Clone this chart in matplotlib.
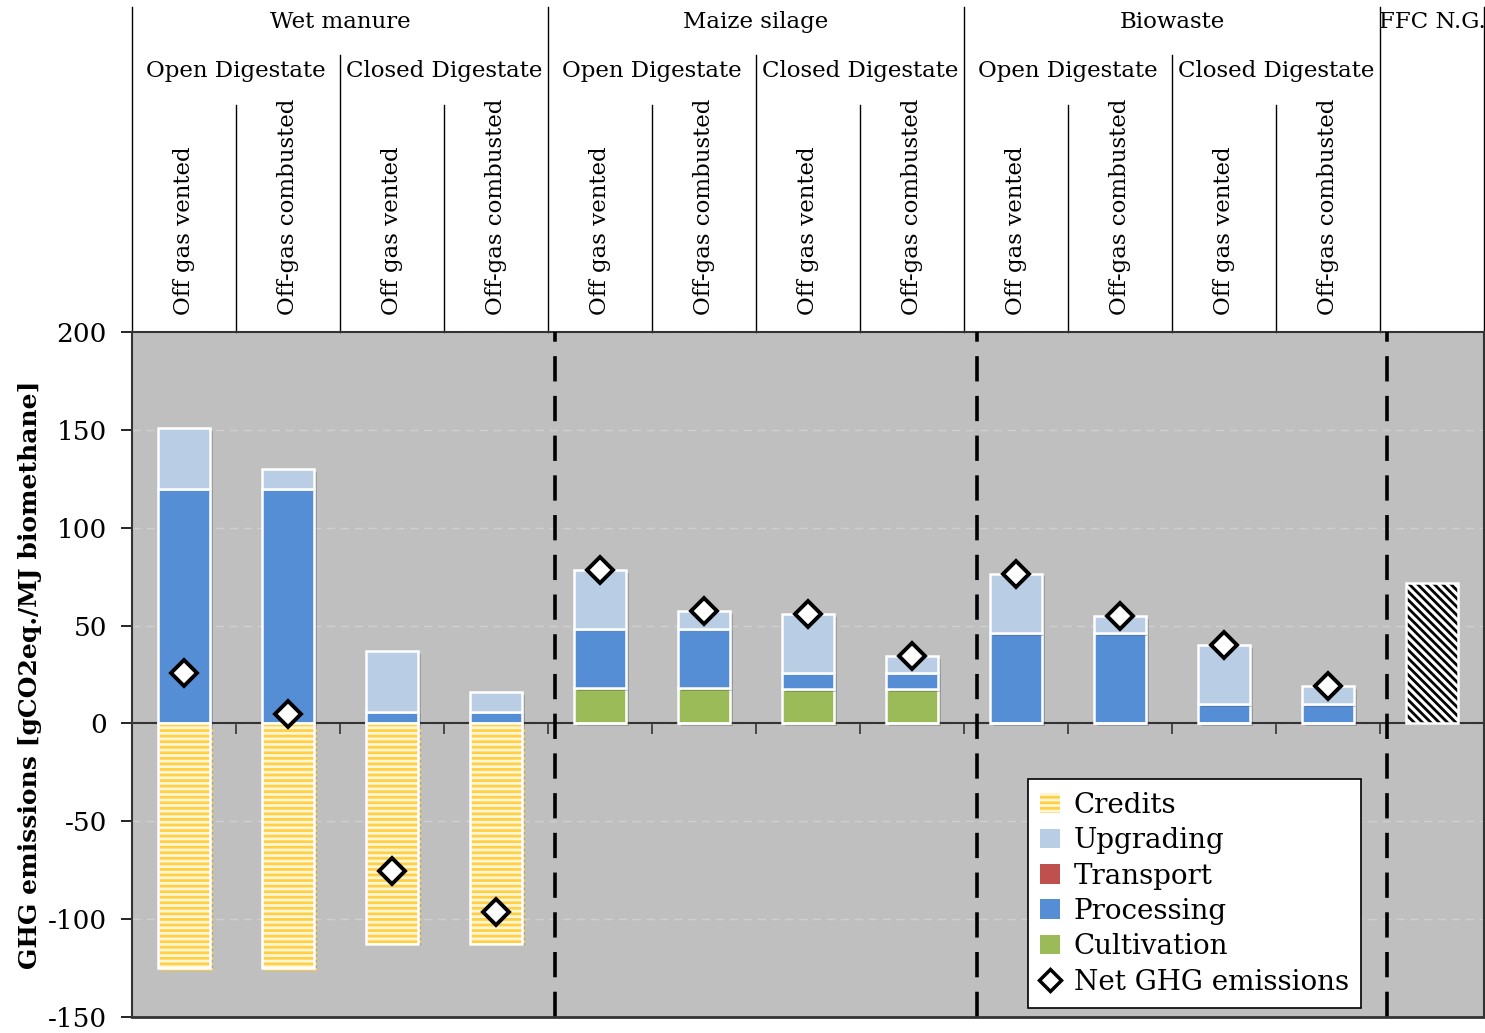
import matplotlib
matplotlib.use('Agg')
import matplotlib.pyplot as plt
import matplotlib.patheffects as pe
from matplotlib.lines import Line2D
from matplotlib.patches import Patch
import numpy as np

plt.rcParams['font.family'] = ['DejaVu Serif']
plt.rcParams['hatch.linewidth'] = 2.0
plt.rcParams['axes.unicode_minus'] = False

# Data (gCO2eq./MJ biomethane)
feedstocks = ['Wet manure', 'Maize silage', 'Biowaste']
digestate = ['Open Digestate', 'Closed Digestate']
offgas = ['Off gas vented', 'Off-gas combusted']

cultivation = [0, 0, 0, 0, 18, 18, 17.5, 17.5, 0, 0, 0, 0]
processing = [120, 120, 6, 6, 30.5, 30.5, 8.5, 8.5, 46, 46, 10, 10]
transport = [0, 0, 0, 0, 0, 0, 0, 0, 0, 0, 0, 0]
upgrading = [31, 10, 31, 10, 30, 9, 30, 8.5, 30.5, 9, 30, 9]
credits = [-125, -125, -112.5, -112.5, 0, 0, 0, 0, 0, 0, 0, 0]
net_ghg = [26, 5, -75.5, -96.5, 78.5, 57.5, 56, 34.5, 76.5, 55, 40, 19]
ffc_ng = 72

c_upg = '#B9CDE5'
c_tra = '#C0504D'
c_pro = '#558ED5'
c_cul = '#9BBB59'
c_cre = '#FFD044'

fig = plt.figure(figsize=(14.85, 10.33), dpi=100)
ax = fig.add_axes([0.0889, 0.0155, 0.9104, 0.6631])
ax.set_facecolor('#BFBFBF')

x = np.arange(12) + 0.5
w = 0.5
shadow = [pe.SimplePatchShadow(offset=(2, -2), alpha=0.25), pe.Normal()]

bottom = np.zeros(12)
for vals, col in [(cultivation, c_cul), (processing, c_pro), (transport, c_tra), (upgrading, c_upg)]:
    vals = np.array(vals, dtype=float)
    bars = ax.bar(x, vals, w, bottom=bottom, color=col, edgecolor='white', linewidth=1.8, zorder=3)
    for b in bars:
        b.set_path_effects(shadow)
    bottom = bottom + vals

# credits with yellow horizontal hatch
cb = ax.bar(x, credits, w, color='#FFF6D8', edgecolor=c_cre, linewidth=0, hatch='---', zorder=3)
for b in cb:
    b.set_path_effects(shadow)
ax.bar(x, credits, w, fill=False, edgecolor='white', linewidth=1.8, zorder=3)

# fossil fuel comparator
fb = ax.bar([12.5], [ffc_ng], w, color='white', edgecolor='black', linewidth=0, hatch='\\\\\\\\', zorder=3)
ax.bar([12.5], [ffc_ng], w, fill=False, edgecolor='white', linewidth=1.8, zorder=3)

ax.plot(x, net_ghg, linestyle='none', marker='D', ms=13, mfc='white', mec='black', mew=2.8, zorder=5)

ax.set_xlim(0, 13)
ax.set_ylim(-150, 200)
ax.set_yticks(np.arange(-150, 201, 50))
ax.tick_params(axis='y', direction='out', length=8, width=1.2, labelsize=19, colors='black', pad=10)
ax.yaxis.grid(True, color='#CFCFCF', linestyle=(0, (6, 4)), linewidth=1)
ax.set_axisbelow(True)

ax.spines['bottom'].set_position(('data', 0))
ax.set_xticks(np.arange(1, 13))
ax.set_xticklabels([])
ax.tick_params(axis='x', direction='out', length=8, width=1.2, color='#333333')
for s in ['left', 'top', 'right', 'bottom']:
    ax.spines[s].set_color('#333333')
    ax.spines[s].set_linewidth(1.5)
ax.axhline(-150, color='#333333', linewidth=2, clip_on=False, zorder=6)

for xd in [4.07, 8.125, 12.07]:
    ax.axvline(xd, color='black', linewidth=2.6, linestyle=(0, (7, 4)), zorder=4)

ax.set_ylabel('GHG emissions [gCO2eq./MJ biomethane]', fontsize=18, fontweight='bold', labelpad=4)

# header table
tr = ax.get_xaxis_transform()
kw = dict(transform=tr, color='black', linewidth=1, clip_on=False)
for xb in [0, 4, 8, 12, 13]:
    ax.plot([xb, xb], [1.0, 1.4745], **kw)
for xb in [2, 6, 10]:
    ax.plot([xb, xb], [1.0, 1.4044], **kw)
for xb in [1, 3, 5, 7, 9, 11]:
    ax.plot([xb, xb], [1.0, 1.3314], **kw)

for i, f in enumerate(feedstocks):
    ax.text(4 * i + 2, 1.4526, f, transform=tr, ha='center', va='center', fontsize=16.5)
    for j, d in enumerate(digestate):
        ax.text(4 * i + 2 * j + 1, 1.381, d, transform=tr, ha='center', va='center', fontsize=16.5)
        for k, o in enumerate(offgas):
            ax.text(4 * i + 2 * j + k + 0.5, 1.0248, o, transform=tr, ha='center', va='bottom',
                    rotation=90, fontsize=16.5)
ax.text(12.5, 1.4526, 'FFC N.G.', transform=tr, ha='center', va='center', fontsize=16.5)

handles = [
    Patch(facecolor='#FFF6D8', edgecolor=c_cre, hatch='---', linewidth=0, label='Credits'),
    Patch(facecolor=c_upg, label='Upgrading'),
    Patch(facecolor=c_tra, label='Transport'),
    Patch(facecolor=c_pro, label='Processing'),
    Patch(facecolor=c_cul, label='Cultivation'),
    Line2D([], [], linestyle='none', marker='D', ms=11, mfc='white', mec='black', mew=2.5,
           label='Net GHG emissions'),
]
leg = ax.legend(handles=handles, loc='lower left', bbox_to_anchor=(0.6627, 0.013), fontsize=20,
                frameon=True, fancybox=False, edgecolor='black', framealpha=1,
                handlelength=0.7, handleheight=0.7, handletextpad=0.5, labelspacing=0.3,
                borderpad=0.45, borderaxespad=0)
leg.get_frame().set_linewidth(1.2)
leg.set_zorder(10)

fig.savefig('out.png', dpi=100)
